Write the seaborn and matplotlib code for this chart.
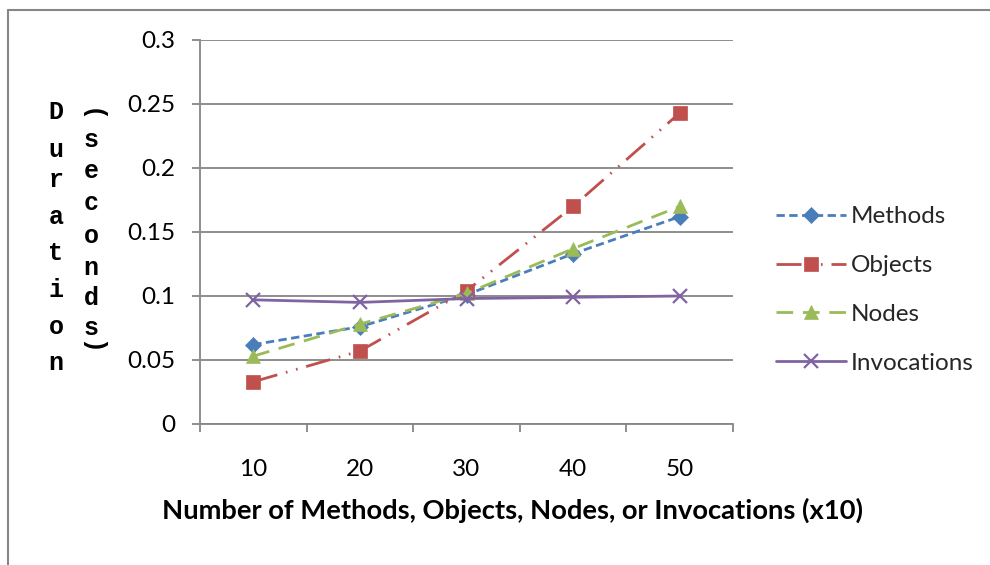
import matplotlib
matplotlib.use("Agg")
import matplotlib.pyplot as plt
import seaborn as sns
import pandas as pd
from matplotlib.lines import Line2D

sizes = [10, 20, 30, 40, 50]
methods = [0.062, 0.076, 0.101, 0.133, 0.162]
objects = [0.033, 0.057, 0.104, 0.170, 0.243]
nodes = [0.053, 0.078, 0.102, 0.137, 0.170]
invocations = [0.097, 0.095, 0.098, 0.099, 0.100]
y_ticks = [0, 0.05, 0.1, 0.15, 0.2, 0.25, 0.3]
y_tick_labels = ["0", "0.05", "0.1", "0.15", "0.2", "0.25", "0.3"]
x_label = "Number of Methods, Objects, Nodes, or Invocations (x10)"
y_label_col1 = "Duration"
y_label_col2 = "(seconds)"

sns.set_theme(style="white")
plt.rcParams['font.family'] = ['Lato', 'DejaVu Sans']

fig = plt.figure(figsize=(9.9, 5.65), dpi=100)
ax = fig.add_axes([200/990, 1-424/565, (733-200)/990, (424-40)/565])

df = pd.DataFrame({"x": sizes, "Methods": methods, "Objects": objects,
                   "Nodes": nodes, "Invocations": invocations})

series = [
    ("Methods", "#4A7EBB", "D", 8, (0, (3, 1.6))),
    ("Objects", "#C0504D", "s", 10, (0, (9, 3.2, 0.6, 3.2, 0.6, 3.2))),
    ("Nodes", "#9BBB59", "^", 10, (0, (6, 3.5))),
    ("Invocations", "#8064A2", "x", 10, "-"),
]
for name, col, mk, ms, ls in series:
    sns.lineplot(data=df, x="x", y=name, ax=ax, color=col, marker=mk,
                 markersize=ms, markeredgecolor=col, markerfacecolor=col,
                 markeredgewidth=1.6 if mk == "x" else 0.5,
                 linestyle=ls, linewidth=2.0, label=name)

grid_col = "#868686"
fs = 17.5
ax.set_xlim(5, 55)
ax.set_ylim(0, 0.3)
ax.set_yticks(y_ticks)
ax.set_yticklabels(y_tick_labels)
ax.yaxis.grid(True, color=grid_col, linewidth=1.3)
ax.set_axisbelow(True)
for s in ["top", "right"]:
    ax.spines[s].set_visible(False)
for s in ["left", "bottom"]:
    ax.spines[s].set_color(grid_col)
    ax.spines[s].set_linewidth(1.3)
ax.set_xticks(sizes)
ax.set_xticklabels([str(v) for v in sizes])
ax.set_xticks([5, 15, 25, 35, 45, 55], minor=True)
ax.tick_params(axis="x", which="major", length=0, pad=25, labelsize=fs, colors="black")
ax.tick_params(axis="x", which="minor", length=6, width=1.3, color=grid_col, direction="out", bottom=True)
ax.tick_params(axis="y", which="major", length=6, width=1.3, color=grid_col, direction="out", left=True,
               pad=12, labelsize=fs, labelcolor="black")
ax.set_xlabel("")
ax.set_ylabel("")

fig.text(512/990, 1-510/565, x_label, ha="center", va="center",
         fontsize=19.7, fontweight="bold", color="black")

mono = ['Liberation Mono', 'DejaVu Sans Mono']
y1 = [112, 150, 180, 217, 253, 290, 327, 363]
for ch, yy in zip(y_label_col1, y1):
    fig.text(56/990, 1-yy/565, ch, ha="center", va="center", fontsize=18,
             fontweight="bold", family=mono, color="black")
y2 = [115, 140, 171, 203, 236, 268, 298, 328, 347]
for ch, yy in zip(y_label_col2, y2):
    rot = -90 if ch in "()" else 0
    fig.text(91/990, 1-yy/565, ch, ha="center", va="center", fontsize=18,
             fontweight="bold", family=mono, rotation=rot, color="black")

leg = ax.legend(loc="center left", bbox_to_anchor=(754/990, 1-290/565),
                bbox_transform=fig.transFigure, frameon=False, fontsize=fs,
                handlelength=2.9, labelspacing=1.15, handletextpad=0.2)

# chart border (top and left visible)
fig.add_artist(Line2D([8/990, 1.0], [1-10/565, 1-10/565], color="#868686", linewidth=1.5,
                      transform=fig.transFigure))
fig.add_artist(Line2D([8/990, 8/990], [0, 1-10/565], color="#868686", linewidth=1.5,
                      transform=fig.transFigure))

fig.savefig("out.png", dpi=100)
